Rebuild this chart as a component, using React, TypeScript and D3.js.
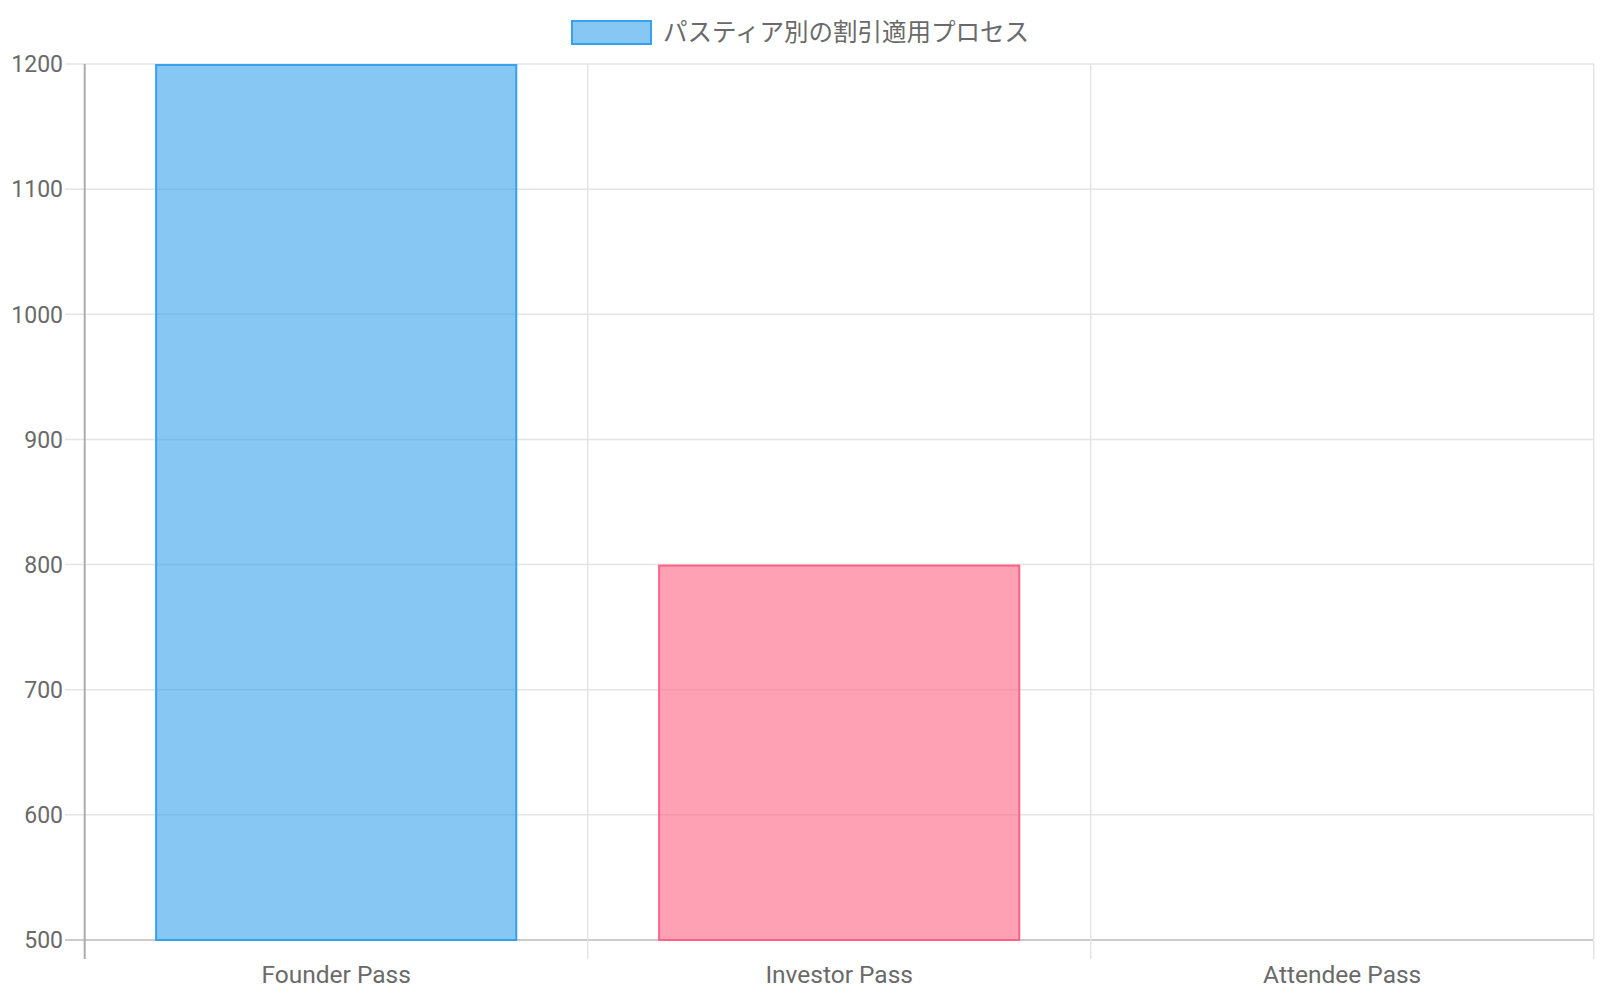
import React from "react";
import * as d3 from "d3";

const categories = ["Founder Pass", "Investor Pass", "Attendee Pass"];
const values = [1200, 800, 500];
const fills = ["rgba(54,162,235,0.6)", "rgba(255,99,132,0.6)", "rgba(255,206,86,0.6)"];
const borders = ["rgb(54,162,235)", "rgb(255,99,132)", "rgb(255,206,86)"];
const yTicks = [500, 600, 700, 800, 900, 1000, 1100, 1200];
const legendLabel = "パスティア別の割引適用プロセス";

export default function App() {
  const W = 1600, H = 1000;
  const left = 84.7, right = 1593.7, top = 64, bottom = 940;
  const x = d3.scaleBand<string>().domain(categories).range([left, right]).paddingInner(0).paddingOuter(0);
  const y = d3.scaleLinear().domain([500, 1200]).range([bottom, top]);
  const bw = x.bandwidth() * 0.72;
  const font = "Roboto, 'Noto Sans CJK JP', sans-serif";
  const bounds = [...categories.map((c) => x(c)!), right];
  return (
    <svg width={W} height={H} style={{ position: "absolute", left: 0, top: 0, background: "#fff" }} fontFamily={font}>
      {/* horizontal grid */}
      {yTicks.map((t) => (
        <g key={t}>
          <line x1={65} x2={right} y1={y(t)} y2={y(t)} stroke={t === 500 ? "#cbcbcb" : "#e4e4e4"} strokeWidth={t === 500 ? 2 : 1.5} />
          <text x={63} y={y(t)} dy="0.36em" textAnchor="end" fontSize={23} fill="#6a6a6a">{t}</text>
        </g>
      ))}
      {/* vertical grid */}
      {bounds.map((b, i) => (
        <line key={i} x1={b} x2={b} y1={top} y2={959} stroke={i === 0 ? "#acacac" : "#e4e4e4"} strokeWidth={i === 0 ? 2 : 1.5} />
      ))}
      {/* bars */}
      {categories.map((c, i) => {
        const cx = x(c)! + x.bandwidth() / 2;
        const y0 = y(values[i]);
        const h = bottom - y0;
        if (h <= 0) return null;
        return (
          <rect key={c} x={cx - bw / 2 + 1} y={y0 + 1} width={bw - 2} height={h - 1} fill={fills[i]} stroke={borders[i]} strokeWidth={2} />
        );
      })}
      {/* x labels */}
      {categories.map((c) => (
        <text key={c} x={x(c)! + x.bandwidth() / 2} y={983} textAnchor="middle" fontSize={24.5} fill="#6a6a6a">{c}</text>
      ))}
      {/* legend */}
      <rect x={572} y={21} width={79} height={23} fill={fills[0]} stroke={borders[0]} strokeWidth={2} />
      <text x={663} y={32.5} dy="0.36em" fontSize={24.5} fill="#6a6a6a">{legendLabel}</text>
    </svg>
  );
}
